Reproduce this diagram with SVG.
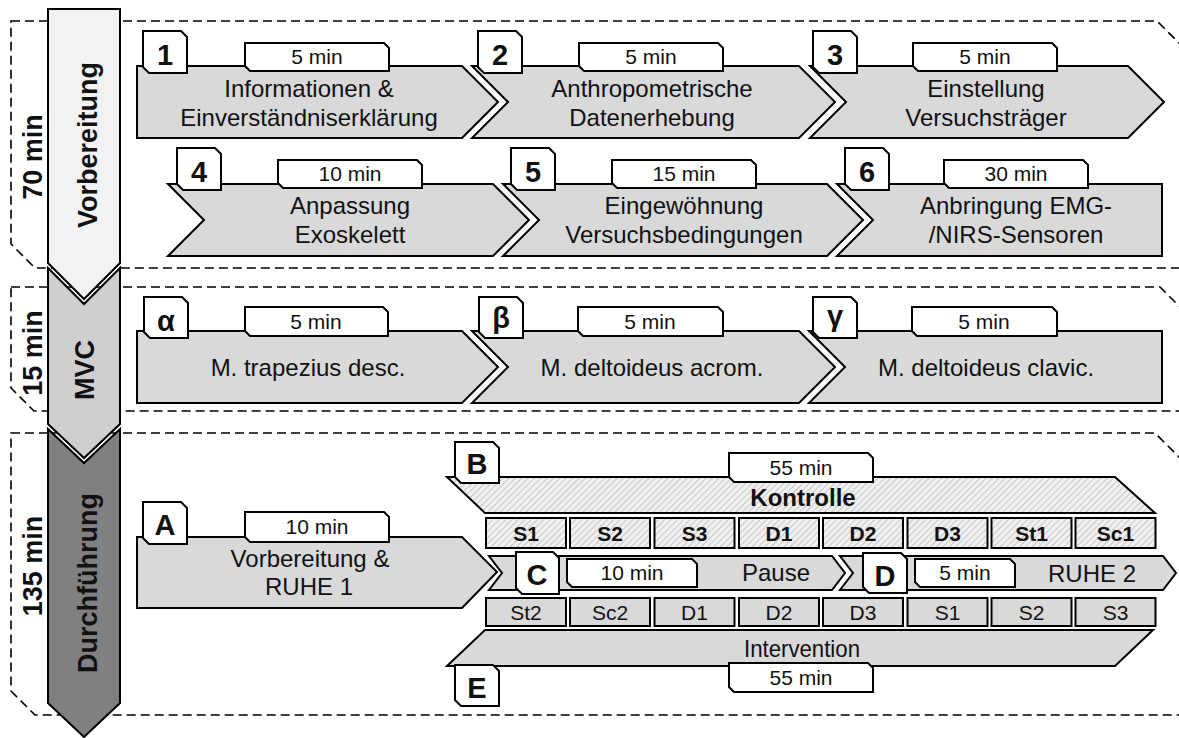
<svg xmlns="http://www.w3.org/2000/svg" width="1179" height="738" viewBox="0 0 1179 738">
<defs>
<pattern id="hatch" width="4.5" height="4.5" patternUnits="userSpaceOnUse" patternTransform="rotate(45)">
<rect width="4.5" height="4.5" fill="#f0f0f0"/>
<line x1="0" y1="0" x2="0" y2="4.5" stroke="#b8b8b8" stroke-width="1.4"/>
</pattern>
<style>
.dash{fill:none;stroke:#000;stroke-width:1.6;stroke-dasharray:9 5}
.box{fill:#d9d9d9;stroke:#000;stroke-width:2}
.hb{fill:url(#hatch);stroke:#000;stroke-width:2}
.wt{fill:#fff;stroke:#000;stroke-width:2}
.t{font-family:"Liberation Sans",Arial,sans-serif;fill:#111;text-anchor:middle}
.m{font-size:24px}
.l{font-size:21px}
.n{font-size:29px;font-weight:bold}
.c{font-size:21px}
.cb{font-size:21px;font-weight:bold}
.ph{font-size:27px;font-weight:bold}
</style>
</defs>
<rect width="1179" height="738" fill="#fff"/>

<g id="sections">
<path class="dash" d="M11,21 H1157 L1188,52 V268 H35 L11,244 Z"/>
<path class="dash" d="M11,287 H1160 L1188,315 V411 H34 L11,388 Z"/>
<path class="dash" d="M11,433 H1155 L1188,466 V715 H35 L11,691 Z"/>
</g>

<g id="connectors"/>

<g id="phase-vorbereitung">
<path d="M48,9 H120 V263 L84,299 L48,263 Z" fill="#f2f2f2" stroke="#000" stroke-width="2"/>
<text class="t ph" transform="translate(97,145) rotate(-90)">Vorbereitung</text>
<text class="t ph" font-size="26" transform="translate(42,157) rotate(-90)">70 min</text>
</g>
<g id="phase-mvc">
<path d="M48,268 L84,304 L120,268 V424 L84,458 L48,424 Z" fill="#cfcfcf" stroke="#000" stroke-width="2"/>
<text class="t ph" transform="translate(94,370) rotate(-90)">MVC</text>
<text class="t ph" transform="translate(42,353) rotate(-90)">15 min</text>
</g>
<g id="phase-durchfuehrung">
<path d="M48,429 L84,463 L120,429 V703 L84,737 L48,703 Z" fill="#808080" stroke="#000" stroke-width="2"/>
<text class="t ph" transform="translate(97,583) rotate(-90)">Durchführung</text>
<text class="t ph" transform="translate(42,566) rotate(-90)">135 min</text>
</g>

<g id="step1">
<path class="box" d="M137,66 H462 L498,102 L462,138 H137 Z"/>
<path class="wt" d="M143,31 H181 L187,37 V73 H149 L143,67 Z"/>
<text class="t n" x="165" y="65">1</text>
<path class="wt" d="M245,43 H384 L389,48 V71 H250 L245,66 Z"/>
<text class="t l" x="317" y="64">5 min</text>
<text class="t m" x="309" y="97">Informationen &amp;</text>
<text class="t m" x="309" y="126">Einverständniserklärung</text>
</g>
<g id="step2">
<path class="box" d="M472,66 H799 L835,102 L799,138 H472 L508,102 Z"/>
<path class="wt" d="M478,31 H516 L522,37 V73 H484 L478,67 Z"/>
<text class="t n" x="500" y="65">2</text>
<path class="wt" d="M579,43 H718 L723,48 V71 H584 L579,66 Z"/>
<text class="t l" x="651" y="64">5 min</text>
<text class="t m" x="652" y="97">Anthropometrische</text>
<text class="t m" x="652" y="126">Datenerhebung</text>
</g>
<g id="step3">
<path class="box" d="M810,66 H1128 L1164,102 L1128,138 H810 L846,102 Z"/>
<path class="wt" d="M813,31 H851 L857,37 V73 H819 L813,67 Z"/>
<text class="t n" x="835" y="65">3</text>
<path class="wt" d="M913,43 H1052 L1057,48 V71 H918 L913,66 Z"/>
<text class="t l" x="985" y="64">5 min</text>
<text class="t m" x="986" y="97">Einstellung</text>
<text class="t m" x="986" y="126">Versuchsträger</text>
</g>

<g id="step4">
<path class="box" d="M168,184 H493 L529,220 L493,256 H168 L204,220 Z"/>
<path class="wt" d="M177,148 H215 L221,154 V190 H183 L177,184 Z"/>
<text class="t n" x="199" y="182">4</text>
<path class="wt" d="M278,160 H417 L422,165 V188 H283 L278,183 Z"/>
<text class="t l" x="350" y="181">10 min</text>
<text class="t m" x="350" y="214">Anpassung</text>
<text class="t m" x="350" y="243">Exoskelett</text>
</g>
<g id="step5">
<path class="box" d="M503,184 H827 L863,220 L827,256 H503 L539,220 Z"/>
<path class="wt" d="M511,148 H549 L555,154 V190 H517 L511,184 Z"/>
<text class="t n" x="533" y="182">5</text>
<path class="wt" d="M612,160 H751 L756,165 V188 H617 L612,183 Z"/>
<text class="t l" x="684" y="181">15 min</text>
<text class="t m" x="684" y="214">Eingewöhnung</text>
<text class="t m" x="684" y="243">Versuchsbedingungen</text>
</g>
<g id="step6">
<path class="box" d="M837,184 H1162 V256 H837 L873,220 Z"/>
<path class="wt" d="M845,148 H883 L889,154 V190 H851 L845,184 Z"/>
<text class="t n" x="867" y="182">6</text>
<path class="wt" d="M944,160 H1083 L1088,165 V188 H949 L944,183 Z"/>
<text class="t l" x="1016" y="181">30 min</text>
<text class="t m" x="1016" y="214">Anbringung EMG-</text>
<text class="t m" x="1016" y="243">/NIRS-Sensoren</text>
</g>

<g id="mvc-alpha">
<path class="box" d="M137,331 H462 L498,367 L462,403 H137 Z"/>
<path class="wt" d="M144,297 H182 L188,303 V338 H150 L144,332 Z"/>
<text class="t n" font-size="34" x="166" y="331">α</text>
<path class="wt" d="M245,307 H383 L388,312 V336 H250 L245,331 Z"/>
<text class="t l" x="316" y="329">5 min</text>
<text class="t m" x="308" y="376">M. trapezius desc.</text>
</g>
<g id="mvc-beta">
<path class="box" d="M472,331 H799 L835,367 L799,403 H472 L508,367 Z"/>
<path class="wt" d="M479,297 H517 L523,303 V338 H485 L479,332 Z"/>
<text class="t n" x="501" y="328">β</text>
<path class="wt" d="M578,307 H718 L723,312 V336 H583 L578,331 Z"/>
<text class="t l" x="650" y="329">5 min</text>
<text class="t m" x="652" y="376">M. deltoideus acrom.</text>
</g>
<g id="mvc-gamma">
<path class="box" d="M809,331 H1162 V403 H809 L845,367 Z"/>
<path class="wt" d="M813,297 H851 L857,303 V338 H819 L813,332 Z"/>
<text class="t n" font-size="32" x="835" y="326">γ</text>
<path class="wt" d="M912,307 H1052 L1057,312 V336 H917 L912,331 Z"/>
<text class="t l" x="984" y="329">5 min</text>
<text class="t m" x="986" y="376">M. deltoideus clavic.</text>
</g>

<g id="stepA">
<path class="box" d="M137,537 H462 L497,572 L462,608 H137 Z"/>
<path class="wt" d="M143,502 H181 L187,508 V544 H149 L143,538 Z"/>
<text class="t n" font-size="31" x="165" y="535">A</text>
<path class="wt" d="M245,512 H384 L389,517 V542 H250 L245,537 Z"/>
<text class="t l" x="317" y="534">10 min</text>
<text class="t m" x="310" y="567">Vorbereitung &amp;</text>
<text class="t m" x="309" y="595">RUHE 1</text>
</g>

<g id="stepB">
<path class="hb" d="M447,477 H1115 L1155,513 H485 Z"/>
<path class="wt" d="M455,442 H493 L499,448 V483 H461 L455,477 Z"/>
<text class="t n" font-size="31" x="477" y="474">B</text>
<path class="wt" d="M729,453 H868 L873,458 V482 H734 L729,477 Z"/>
<text class="t l" x="801" y="475">55 min</text>
<text class="t" font-size="24" font-weight="bold" x="803" y="506">Kontrolle</text>
</g>

<g id="kontrolle-cells">
<rect class="hb" x="486" y="518" width="80" height="30"/>
<rect class="hb" x="570" y="518" width="80" height="30"/>
<rect class="hb" x="654.5" y="518" width="80" height="30"/>
<rect class="hb" x="739" y="518" width="80" height="30"/>
<rect class="hb" x="823" y="518" width="80" height="30"/>
<rect class="hb" x="907.5" y="518" width="80" height="30"/>
<rect class="hb" x="991.5" y="518" width="80" height="30"/>
<rect class="hb" x="1075.5" y="518" width="80" height="30"/>
<text class="t cb" x="526" y="541">S1</text>
<text class="t cb" x="610" y="541">S2</text>
<text class="t cb" x="694.5" y="541">S3</text>
<text class="t cb" x="779" y="541">D1</text>
<text class="t cb" x="863" y="541">D2</text>
<text class="t cb" x="947.5" y="541">D3</text>
<text class="t cb" x="1031.5" y="541">St1</text>
<text class="t cb" x="1115.5" y="541">Sc1</text>
</g>

<g id="stepC">
<path class="box" d="M489,556 H832 L845,573 L832,590 H489 L502,573 Z"/>
<path class="wt" d="M516,552 H553 L559,558 V594 H522 L516,588 Z"/>
<text class="t n" font-size="33" x="537" y="585">C</text>
<path class="wt" d="M567,559 H692 L697,564 V587 H572 L567,582 Z"/>
<text class="t l" x="632" y="580">10 min</text>
<text class="t m" x="776" y="581">Pause</text>
</g>

<g id="stepD">
<path class="box" d="M840,556 H1163 L1176,573 L1163,590 H840 L853,573 Z"/>
<path class="wt" d="M863,553 H901 L907,559 V593 H869 L863,587 Z"/>
<text class="t n" font-size="34" x="885" y="586">D</text>
<path class="wt" d="M915,559 H1010 L1015,564 V587 H920 L915,582 Z"/>
<text class="t l" x="965" y="580">5 min</text>
<text class="t m" x="1092" y="582">RUHE 2</text>
</g>

<g id="intervention-cells">
<rect class="box" x="486" y="598" width="80" height="28"/>
<rect class="box" x="570" y="598" width="80" height="28"/>
<rect class="box" x="654.5" y="598" width="80" height="28"/>
<rect class="box" x="739" y="598" width="80" height="28"/>
<rect class="box" x="823" y="598" width="80" height="28"/>
<rect class="box" x="907.5" y="598" width="80" height="28"/>
<rect class="box" x="991.5" y="598" width="80" height="28"/>
<rect class="box" x="1075.5" y="598" width="80" height="28"/>
<text class="t c" x="526" y="620">St2</text>
<text class="t c" x="610" y="620">Sc2</text>
<text class="t c" x="694.5" y="620">D1</text>
<text class="t c" x="779" y="620">D2</text>
<text class="t c" x="863" y="620">D3</text>
<text class="t c" x="947.5" y="620">S1</text>
<text class="t c" x="1031.5" y="620">S2</text>
<text class="t c" x="1115.5" y="620">S3</text>
</g>

<g id="stepE">
<path class="box" d="M485,630 H1153 L1115,666 H447 Z"/>
<text class="t" font-size="24" x="802" y="657" textLength="116" lengthAdjust="spacingAndGlyphs">Intervention</text>
<path class="wt" d="M729,663 H868 L873,668 V692 H734 L729,687 Z"/>
<text class="t l" x="801" y="685">55 min</text>
<path class="wt" d="M455,665 H493 L499,671 V706 H461 L455,700 Z"/>
<text class="t n" font-size="31" x="477" y="698">E</text>
</g>
</svg>
